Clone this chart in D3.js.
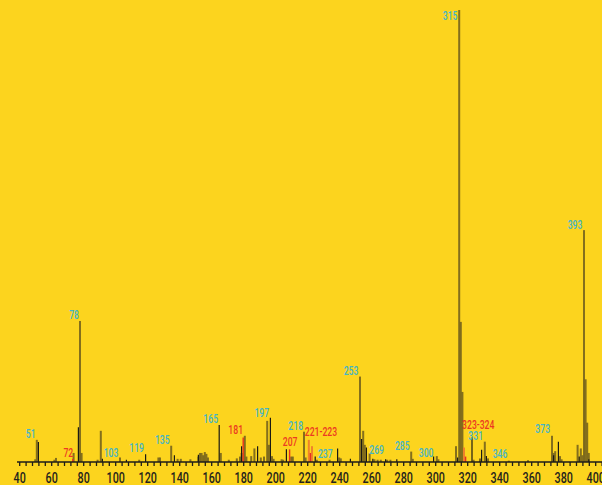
<!DOCTYPE html>
<html><head><meta charset="utf-8">
<script src="https://cdn.jsdelivr.net/npm/d3@7"></script>
<style>
html,body{margin:0;padding:0;background:#FCD41E;}
svg{display:block;}
</style></head>
<body>
<script>
// Brown (reference spectrum) peaks: m/z and relative intensity (%)
const brownMz  = [50,51,62,63,74,78,79,89,91,103,115,127,128,135,139,141,147,152,153,154,155,156,157,158,166,171,176,178,179,181,182,185,187,191,193,195,196,198,199,204,205,210,211,218,219,226,234,240,241,253,255,256,259,262,264,266,270,272,285,286,301,302,313,315,316,317,324,331,333,346,358,373,374,375,378,379,389,391,392,393,394,395,396];
const brownInt = [0.6,4.9,0.5,0.9,2.0,31.2,2.0,0.5,6.9,1.0,0.5,1.0,1.0,3.6,0.7,0.7,0.6,1.2,2.0,2.0,1.5,2.2,1.8,1.0,2.0,0.5,0.8,1.2,2.0,5.8,1.2,1.3,3.0,1.0,1.2,9.1,3.8,1.3,0.7,0.6,0.5,1.2,1.2,6.7,1.0,0.5,0.5,1.0,0.8,18.9,6.9,3.8,1.9,0.6,0.5,0.5,0.5,0.5,2.3,0.7,1.3,0.6,3.5,100,31,15.5,0.5,4.5,0.8,0.3,0.4,5.8,2.0,2.4,1.3,0.6,3.8,3.0,1.5,51.3,18.3,8.7,2.0];
// Black (sample) peaks
const blackMz  = [52,77,92,107,119,137,152,165,179,189,197,207,225,239,247,254,257,261,269,276,299,314,323,328,329,332,374,377,390,396];
const blackInt = [4.4,7.7,0.7,0.5,1.7,1.5,1.6,8.2,3.5,3.5,9.8,2.8,1.2,3.0,0.7,5.1,3.2,0.7,0.6,0.6,1.2,1.0,5.5,0.8,2.7,1.3,1.5,4.5,1.2,0.6];
// Highlighted peaks
const redMz  = [73.5,180,209,222,319];
const redInt = [0.7,5.4,2.8,2.0,1.2];
const orangeMz  = [221,223,318];
const orangeInt = [4.9,3.5,3.2];
// Peak labels (text, anchor m/z, anchor intensity, colour group)
const labelText = ["315","393","78","51","72","103","119","135","165","181","197","207","218","221-223","237","253","269","285","300","323-324","331","346","373"];
const labelMz   = [309.3,387.4,74.3,47.2,70.7,97.4,113.4,129.4,159.7,175.3,191.6,209.3,212.8,228.6,231.3,247.4,263.4,279.4,294.3,326.9,325.3,340.5,367.2];
const labelInt  = [97.8,51.5,31.6,5.4,1.2,1.2,2.3,4.0,8.6,6.2,10.0,3.5,7.1,5.75,0.95,19.25,1.7,2.65,1.2,7.4,4.8,0.8,6.35];
const labelRed  = ["72","181","207","221-223","323-324"];
// Axis
const tickValues = d3.range(40, 405, 4);
const tickLabelValues = d3.range(40, 401, 20);

const W = 602, H = 485;
const svg = d3.select("body").append("svg").attr("width", W).attr("height", H);
svg.append("rect").attr("width", W).attr("height", H).attr("fill", "#FCD41E");

const x = d3.scaleLinear().domain([40, 400]).range([19.2, 595.2]);
const y = d3.scaleLinear().domain([0, 100]).range([462, 10]);

const brown = brownMz.map((m, i) => ({m, v: brownInt[i]}));
const black = blackMz.map((m, i) => ({m, v: blackInt[i]}));
const red = redMz.map((m, i) => ({m, v: redInt[i]}));
const orange = orangeMz.map((m, i) => ({m, v: orangeInt[i]}));

svg.append("g").selectAll("rect").data(brown).join("rect")
  .attr("x", d => x(d.m) - 1).attr("width", 2)
  .attr("y", d => y(d.v)).attr("height", d => y(0) - y(d.v))
  .attr("fill", "#6f5d1c").attr("fill-opacity", 0.85);

svg.append("g").selectAll("rect").data(orange).join("rect")
  .attr("x", d => x(d.m) - 1).attr("width", 2)
  .attr("y", d => y(d.v)).attr("height", d => y(0) - y(d.v))
  .attr("fill", "#F0822A");

svg.append("g").selectAll("line").data(black).join("line")
  .attr("x1", d => x(d.m)).attr("x2", d => x(d.m))
  .attr("y1", d => y(d.v)).attr("y2", y(0))
  .attr("stroke", "#1b1a14").attr("stroke-width", 1.2);

svg.append("g").selectAll("line").data(red).join("line")
  .attr("x1", d => x(d.m)).attr("x2", d => x(d.m))
  .attr("y1", d => y(d.v)).attr("y2", y(0))
  .attr("stroke", "#E8301E").attr("stroke-width", 1.4);

// axis
const axis = d3.axisBottom(x).tickValues(tickValues).tickSize(4).tickSizeOuter(0)
  .tickFormat(d => tickLabelValues.includes(d) ? d : "");
const gx = svg.append("g").attr("transform", `translate(0,${y(0)})`).call(axis);
gx.select(".domain").remove();
gx.selectAll(".tick line").attr("stroke", "#1e1d18").attr("stroke-width", 1.3);
gx.selectAll(".tick text")
  .attr("fill", "#24231c").attr("font-family", "Roboto, 'DejaVu Sans', sans-serif")
  .attr("font-size", 14.5).attr("font-weight", 500)
  .attr("y", 0).attr("dy", 0)
  .attr("transform", "translate(0,21) scale(0.74,1)");
svg.append("line").attr("x1", 17).attr("x2", W).attr("y1", y(0)).attr("y2", y(0))
  .attr("stroke", "#1e1d18").attr("stroke-width", 1.5);

// labels
const labels = labelText.map((t, i) => ({t, m: labelMz[i], v: labelInt[i], red: labelRed.includes(t)}));
svg.append("g").selectAll("text").data(labels).join("text")
  .attr("transform", d => `translate(${x(d.m)},${y(d.v)}) scale(0.72,1)`)
  .attr("text-anchor", "middle")
  .attr("font-family", "Roboto, 'DejaVu Sans', sans-serif")
  .attr("font-size", 12).attr("font-weight", 500)
  .attr("fill", d => d.red ? "#EC3A22" : "#45B5C6")
  .text(d => d.t);
</script>
</body></html>
